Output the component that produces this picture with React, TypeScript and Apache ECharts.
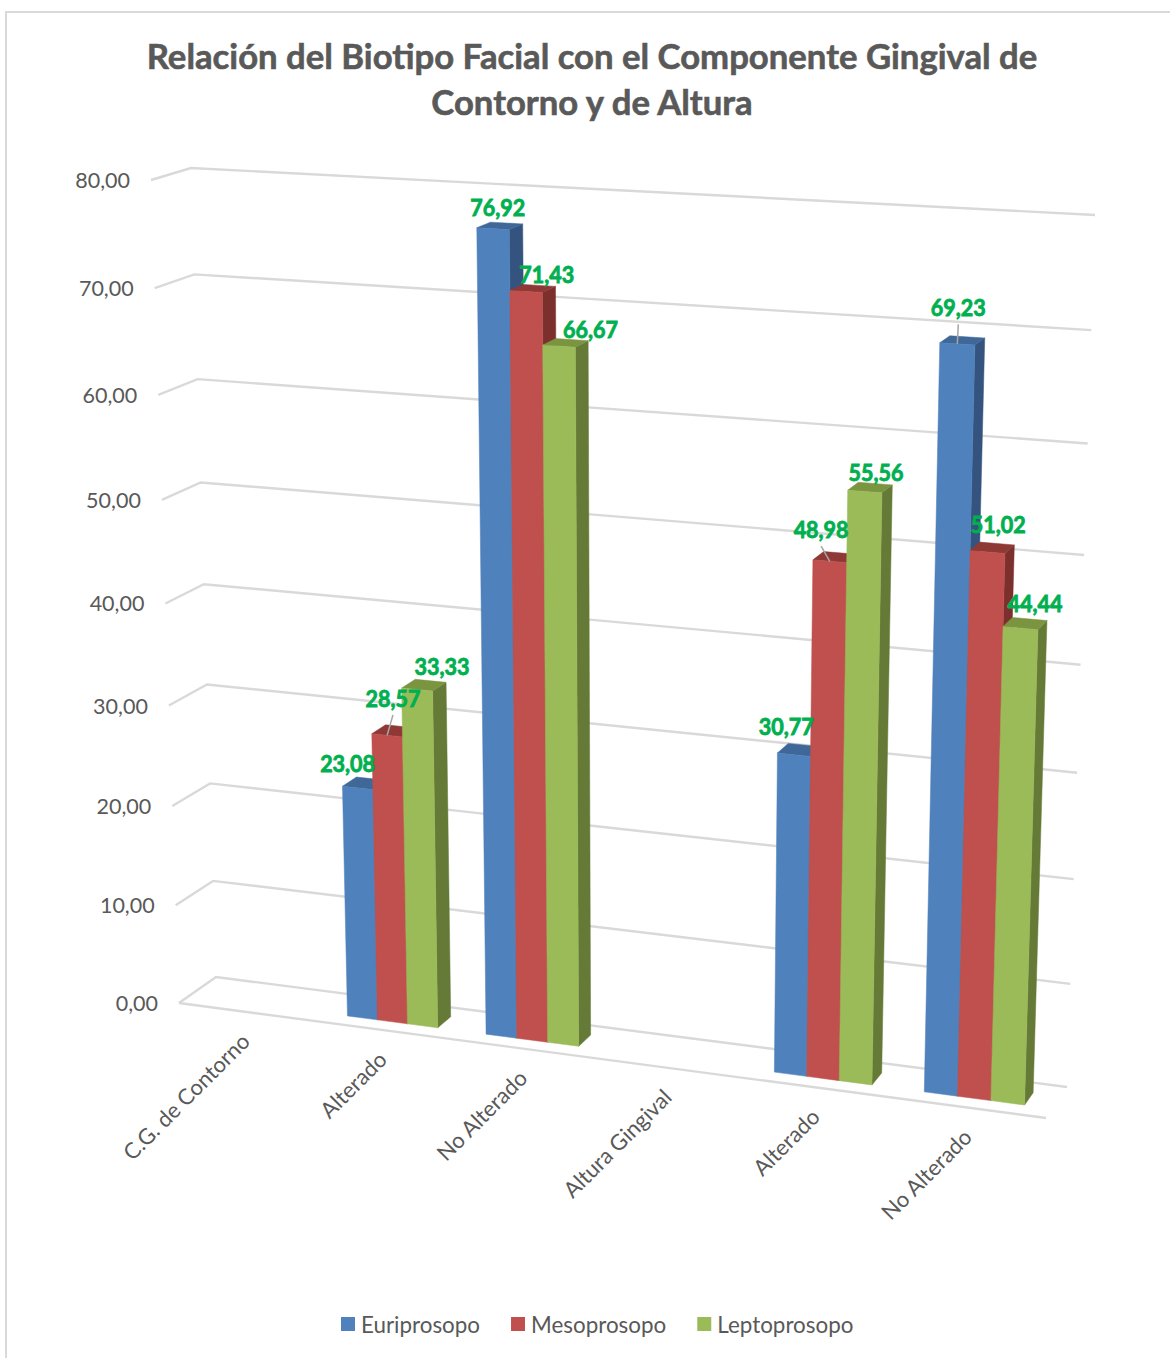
import React, { useEffect, useRef } from "react";
import * as echarts from "echarts";

const titleText = "Relación del Biotipo Facial con el Componente Gingival de\nContorno y de Altura";
const categories = ["C.G. de Contorno", "Alterado", "No Alterado", "Altura Gingival", "Alterado", "No Alterado"];
const valueTicks = [0, 10, 20, 30, 40, 50, 60, 70, 80];
const euriprosopo = [null, 23.08, 76.92, null, 30.77, 69.23];
const mesoprosopo = [null, 28.57, 71.43, null, 48.98, 51.02];
const leptoprosopo = [null, 33.33, 66.67, null, 55.56, 44.44];

const seriesNames = ["Euriprosopo", "Mesoprosopo", "Leptoprosopo"];
const seriesValues = [euriprosopo, mesoprosopo, leptoprosopo];
const faceColors = [
  { front: "#4F81BD", top: "#3F6797", side: "#34547F" },
  { front: "#C0504D", top: "#8F3937", side: "#7C302E" },
  { front: "#9BBB59", top: "#7A9440", side: "#657A36" },
];

// Offset of each value label from the centre of its bar's top face.
const labelOffsets = [
  [null, [-17, -20], [-2, -19], null, [-13, -24], [-4, -33]],
  [null, [-1, -33], [14, -14], null, [-14, -28], [6, -24]],
  [null, [18, -19], [25, -14], null, [6, -15], [10, -20]],
];
// Short connector lines between a label and its bar: [series, category].
const leaderLines = [[1, 1], [1, 4], [0, 5]];

// Corners of the chart box in screen space, bottom-left first, going round.
const frontQuad = [[179, 1003], [1046, 1118], [1072, 231], [151, 180]];
const backQuad = [[216, 977], [1067, 1087], [1095, 215], [191, 168]];
const BAR_Z_FRONT = 0.3;
const BAR_Z_BACK = 0.7;
const BAR_BAND_SHARE = 0.218;
const BAR_U_SHIFT = -0.001;

const INK = "#595959";
const GRID_LINE = "#D9D9D9";
const LABEL_GREEN = "#00B050";
const FONT = "Lato";

function quadTransform(q: number[][]) {
  const [[x0, y0], [x1, y1], [x2, y2], [x3, y3]] = q;
  const dx1 = x1 - x2, dx2 = x3 - x2, sx = x0 - x1 + x2 - x3;
  const dy1 = y1 - y2, dy2 = y3 - y2, sy = y0 - y1 + y2 - y3;
  const den = dx1 * dy2 - dx2 * dy1;
  const g = (sx * dy2 - dx2 * sy) / den;
  const h = (dx1 * sy - sx * dy1) / den;
  const a = x1 - x0 + g * x1, b = x3 - x0 + h * x3;
  const d = y1 - y0 + g * y1, e = y3 - y0 + h * y3;
  return (u: number, v: number) => {
    const w = g * u + h * v + 1;
    return [(a * u + b * v + x0) / w, (d * u + e * v + y0) / w];
  };
}
const frontPlane = quadTransform(frontQuad);
const backPlane = quadTransform(backQuad);

// Box coordinates: u along the categories, v up the values, z from front (0) to back (1).
function project(u: number, v: number, z: number) {
  const f = frontPlane(u, v);
  const b = backPlane(u, v);
  return [f[0] + (b[0] - f[0]) * z, f[1] + (b[1] - f[1]) * z];
}

// Maps a pixel of the flat cartesian grid to unit box coordinates.
function toUnit(params: any, pt: number[]) {
  const c = params.coordSys;
  return [(pt[0] - c.x) / c.width, 1 - (pt[1] - c.y) / c.height];
}

function barCorners(params: any, api: any, seriesIdx: number) {
  const cat = api.value(0);
  const val = api.value(1);
  const top = toUnit(params, api.coord([cat, val]));
  const base = toUnit(params, api.coord([cat, 0]));
  const band = api.size([1, 0])[0] / params.coordSys.width;
  const barW = band * BAR_BAND_SHARE;
  const left = top[0] + BAR_U_SHIFT + (seriesIdx - 1.5) * barW;
  return { left, right: left + barW, top: top[1], base: base[1] };
}

const barSeries = seriesNames.map((name, si) => ({
  type: "custom",
  name,
  coordinateSystem: "cartesian2d",
  silent: true,
  z: 3,
  itemStyle: { color: faceColors[si].front },
  data: seriesValues[si].map((v, i) => [i, v]).filter((row) => row[1] !== null),
  renderItem: (params: any, api: any) => {
    const { left, right, top, base } = barCorners(params, api, si);
    const c = faceColors[si];
    const poly = (pts: number[][], fill: string) => ({
      type: "polygon",
      shape: { points: pts },
      style: { fill, stroke: fill, lineWidth: 0.5 },
    });
    const fz = BAR_Z_FRONT, bz = BAR_Z_BACK;
    return {
      type: "group",
      children: [
        poly([project(right, base, fz), project(right, base, bz), project(right, top, bz), project(right, top, fz)], c.side),
        poly([project(left, top, fz), project(right, top, fz), project(right, top, bz), project(left, top, bz)], c.top),
        poly([project(left, base, fz), project(right, base, fz), project(right, top, fz), project(left, top, fz)], c.front),
      ],
    };
  },
}));

const wallSeries = {
  type: "custom",
  coordinateSystem: "cartesian2d",
  silent: true,
  z: 1,
  data: valueTicks.map((t) => [0, t]),
  renderItem: (params: any, api: any) => {
    const tick = api.value(1);
    const v = toUnit(params, api.coord([0, tick]))[1];
    const lineStyle = { stroke: GRID_LINE, lineWidth: 2.4, fill: "none" };
    const near = project(0, v, 0);
    const children: any[] = [
      {
        type: "polyline",
        shape: { points: [near, project(0, v, 1), project(1, v, 1)] },
        style: lineStyle,
      },
      {
        type: "text",
        x: near[0] - 21,
        y: near[1],
        style: {
          text: tick.toFixed(2).replace(".", ","),
          fontFamily: FONT,
          fontSize: 21.5,
          fill: INK,
          align: "right",
          verticalAlign: "middle",
        },
      },
    ];
    if (tick === 0) {
      children.push({
        type: "line",
        shape: { x1: near[0], y1: near[1], x2: project(1, v, 0)[0], y2: project(1, v, 0)[1] },
        style: lineStyle,
      });
    }
    return { type: "group", children };
  },
};

const categoryLabelSeries = {
  type: "custom",
  coordinateSystem: "cartesian2d",
  silent: true,
  z: 2,
  data: categories.map((c, i) => [i, 0, c]),
  renderItem: (params: any, api: any) => {
    const i = api.value(0);
    const p = toUnit(params, api.coord([i, 0]));
    const pos = project(p[0], p[1], 0);
    return {
      type: "text",
      x: pos[0] - 1,
      y: pos[1] + 25,
      rotation: Math.PI / 4,
      style: {
        text: categories[i],
        fontFamily: FONT,
        fontSize: 22,
        fill: INK,
        align: "right",
        verticalAlign: "middle",
      },
    };
  },
};

const valueLabelRows: number[][] = [];
seriesValues.forEach((vals, si) =>
  vals.forEach((v, ci) => {
    if (v !== null) valueLabelRows.push([ci, v, si]);
  }),
);

const valueLabelSeries = {
  type: "custom",
  coordinateSystem: "cartesian2d",
  silent: true,
  z: 5,
  data: valueLabelRows,
  renderItem: (params: any, api: any) => {
    const ci = api.value(0);
    const si = api.value(2);
    const { left, right, top } = barCorners(params, api, si);
    const anchor = project((left + right) / 2, top, (BAR_Z_FRONT + BAR_Z_BACK) / 2);
    const off = labelOffsets[si][ci] as number[];
    const lx = anchor[0] + off[0];
    const ly = anchor[1] + off[1];
    const children: any[] = [];
    if (leaderLines.some(([s, c]) => s === si && c === ci)) {
      const edge = project((left + right) / 2, top, BAR_Z_FRONT);
      children.push({
        type: "line",
        shape: { x1: lx, y1: ly + 17, x2: edge[0], y2: edge[1] },
        style: { stroke: "#A6A6A6", lineWidth: 1.5 },
      });
    }
    children.push({
      type: "text",
      x: lx,
      y: ly,
      scaleY: 1.1,
      style: {
        text: api.value(1).toFixed(2).replace(".", ","),
        fontFamily: FONT,
        fontWeight: "bold",
        fontSize: 21.5,
        fill: LABEL_GREEN,
        stroke: LABEL_GREEN,
        lineWidth: 0.8,
        align: "center",
        verticalAlign: "middle",
      },
    });
    return { type: "group", children };
  },
};

export default function App() {
  const ref = useRef<HTMLDivElement>(null);
  useEffect(() => {
    document.body.style.margin = "0";
    const chart = echarts.init(ref.current!, null, { renderer: "svg" });
    chart.setOption({
      animation: false,
      backgroundColor: "#FFFFFF",
      title: {
        text: titleText,
        left: 587,
        top: 27,
        textAlign: "center",
        textStyle: {
          fontFamily: FONT,
          fontWeight: "bold",
          fontSize: 34.7,
          lineHeight: 46,
          color: INK,
          textBorderColor: INK,
          textBorderWidth: 0.6,
        },
      },
      legend: {
        data: seriesNames,
        left: 336,
        top: 1308,
        icon: "rect",
        itemWidth: 14,
        itemHeight: 14,
        itemGap: 31,
        textStyle: { fontFamily: FONT, fontSize: 22.4, color: INK, padding: [0, 0, 0, 1] },
      },
      grid: { left: 200, right: 200, top: 200, bottom: 300 },
      xAxis: { type: "category", data: categories, show: false },
      yAxis: { type: "value", min: 0, max: 80, interval: 10, show: false },
      graphic: [
        {
          // Frame runs off the right and bottom of the page.
          type: "rect",
          silent: true,
          z: -1,
          shape: { x: 6, y: 12, width: 1180, height: 1400 },
          style: { fill: "none", stroke: GRID_LINE, lineWidth: 2 },
        },
      ],
      series: [wallSeries, categoryLabelSeries, ...barSeries, valueLabelSeries],
    });
    return () => chart.dispose();
  }, []);
  return <div ref={ref} style={{ position: "fixed", left: 0, top: 0, width: 1170, height: 1358 }} />;
}
